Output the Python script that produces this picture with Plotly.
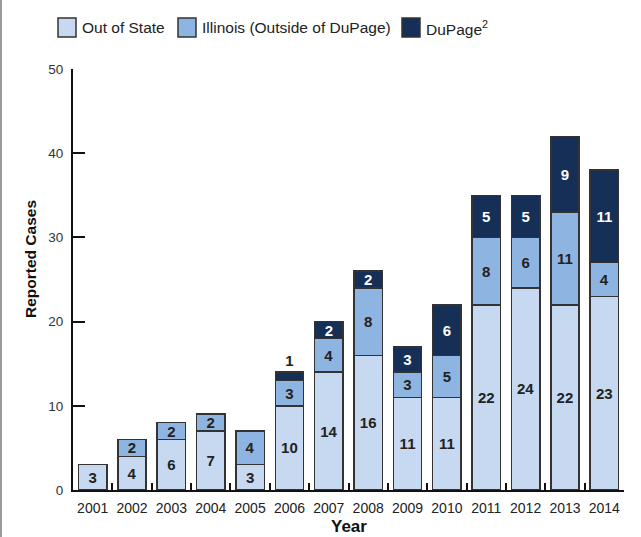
import plotly.graph_objects as go

years = ["2001", "2002", "2003", "2004", "2005", "2006", "2007",
         "2008", "2009", "2010", "2011", "2012", "2013", "2014"]
out_of_state = [3, 4, 6, 7, 3, 10, 14, 16, 11, 11, 22, 24, 22, 23]
illinois = [0, 2, 2, 2, 4, 3, 4, 8, 3, 5, 8, 6, 11, 4]
dupage = [0, 0, 0, 0, 0, 1, 2, 2, 3, 6, 5, 5, 9, 11]

series_names = ["Out of State", "Illinois (Outside of DuPage)", "DuPage<sup>2</sup>"]
colors = ["#c6d9f1", "#8eb4e1", "#152f57"]
text_colors = ["#222222", "#222222", "#ffffff"]

FONT = "Liberation Sans, Arial, sans-serif"
W, H = 641, 537
ML, MR, MT, MB = 73, 17, 69, 47
PW = W - ML - MR
PH = H - MT - MB


def px_x(px):
    return (px - ML) / PW


def px_y(py):
    return (H - MB - py) / PH


fig = go.Figure()
for vals, name, col, tcol in zip([out_of_state, illinois, dupage], series_names, colors, text_colors):
    texts = [str(v) if v > 0 else None for v in vals]
    positions = []
    tcolors = []
    for v in vals:
        if 0 < v < 2:
            positions.append("outside")
            tcolors.append("#222222")
        else:
            positions.append("inside")
            tcolors.append(tcol)
    fig.add_trace(go.Bar(
        x=years, y=vals, name=name,
        marker=dict(color=col, line=dict(color="#333333", width=1.5)),
        text=texts, textposition=positions, insidetextanchor="middle",
        constraintext="none", textangle=0, cliponaxis=False,
        textfont=dict(family=FONT, size=15, color=tcolors, weight="bold"),
        outsidetextfont=dict(family=FONT, size=15, color="#222222", weight="bold"),
        showlegend=False,
    ))

# Legend drawn as boxes and labels above the plot
legend_items = [(58, 80), (178, 200), (402, 424)]
for (bx, tx), name, col in zip(legend_items, series_names, colors):
    fig.add_shape(type="rect", xref="paper", yref="paper",
                  x0=px_x(bx), x1=px_x(bx + 18),
                  y0=px_y(37), y1=px_y(18),
                  fillcolor=col, line=dict(color="#333333", width=1.5))
    fig.add_annotation(xref="paper", yref="paper",
                       x=px_x(tx), y=px_y(28),
                       text=name, showarrow=False, xanchor="left", yanchor="middle",
                       font=dict(family=FONT, size=15.5, color="#222222"))

# Axis titles
fig.add_annotation(xref="paper", yref="paper", x=px_x(30), y=px_y(259),
                   text="<b>Reported Cases</b>", showarrow=False, textangle=-90,
                   xanchor="center", yanchor="middle",
                   font=dict(family=FONT, size=15.5, color="#111111"))
fig.add_annotation(xref="paper", yref="paper", x=px_x(349), y=px_y(526),
                   text="<b>Year</b>", showarrow=False,
                   xanchor="center", yanchor="middle",
                   font=dict(family=FONT, size=17, color="#111111"))

# thin frame line along the left edge
fig.add_shape(type="line", xref="paper", yref="paper",
              x0=px_x(1), x1=px_x(1), y0=px_y(H), y1=px_y(0),
              line=dict(color="#999999", width=2))

fig.update_layout(
    barmode="stack", bargap=0.28,
    width=W, height=H,
    margin=dict(l=ML, r=MR, t=MT, b=MB),
    plot_bgcolor="white", paper_bgcolor="white",
    font=dict(family=FONT, size=13, color="#222222"),
    xaxis=dict(
        type="category", range=[-0.5, 13.5], automargin=False,
        showline=True, linecolor="#111111", linewidth=2,
        ticks="inside", tickson="boundaries", ticklen=7, tickwidth=2, tickcolor="#111111",
        tickfont=dict(size=14, color="#222222"), tickangle=0, ticklabelstandoff=4,
        showgrid=False, zeroline=False,
    ),
    yaxis=dict(
        range=[0, 50], tickvals=[0, 10, 20, 30, 40, 50], automargin=False,
        showline=True, linecolor="#111111", linewidth=2,
        ticks="inside", ticklen=12, tickwidth=2, tickcolor="#111111",
        tickfont=dict(size=13.5, color="#333333"), ticklabelstandoff=5,
        showgrid=False, zeroline=False,
    ),
)

fig.write_html("out.html")
